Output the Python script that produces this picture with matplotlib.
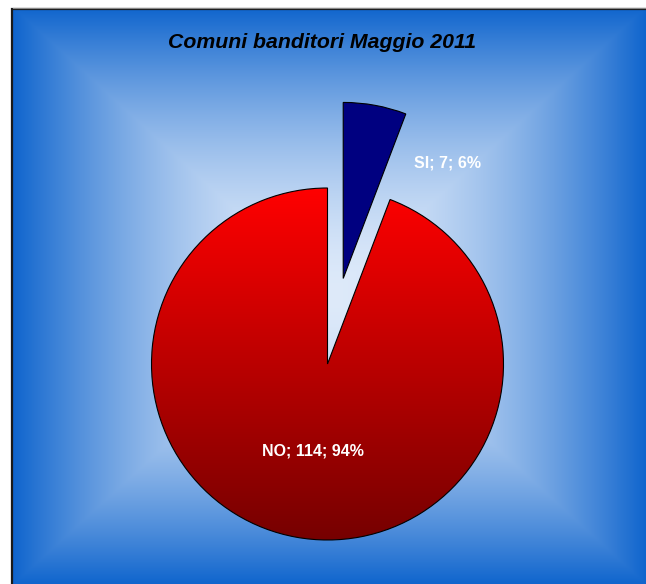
import numpy as np
import matplotlib
matplotlib.use("Agg")
import matplotlib.pyplot as plt

# ---- data ----
categories = ["SI", "NO"]
values = [7, 114]
percent_labels = ["6%", "94%"]
title = "Comuni banditori Maggio 2011"

W, H = 646, 584
fig = plt.figure(figsize=(W / 100, H / 100), dpi=100)
fig.patch.set_facecolor("white")
ax = fig.add_axes([0, 0, 1, 1])
ax.set_xlim(0, W)
ax.set_ylim(0, H)
ax.set_aspect("equal")
ax.axis("off")

# ---- background rectangular gradient ----
x0, x1 = 11.5, W
y0, y1 = 0, H - 8.5
nx, ny = 400, 360
xs = np.linspace(x0, x1, nx)
ys = np.linspace(y0, y1, ny)
X, Y = np.meshgrid(xs, ys)
cx, cy = 329, H - 296
hw, hh = 318, 290
t = np.maximum(np.abs(X - cx) / hw, np.abs(Y - cy) / hh)
t = np.clip(t, 0, 1) ** 1.7
c_center = np.array([222, 234, 250]) / 255
c_edge = np.array([14, 100, 205]) / 255
img = c_center[None, None, :] * (1 - t[..., None]) + c_edge[None, None, :] * t[..., None]
ax.imshow(img, extent=[x0, x1, y0, y1], origin="lower", zorder=0, interpolation="bilinear")
ax.plot([x0, x0, W + 2], [-2, y1, y1], color="#1a1a1a", linewidth=1.6, zorder=1,
        solid_joinstyle="miter")
ax.plot([x0 + 1, W + 2], [y1 + 0.8, y1 + 0.8], color="#888888", linewidth=0.8, zorder=1)

# ---- pie ----
center = (327.5, H - 364)
radius = 176
explode = [87, 0]
wedges, _ = ax.pie(values, explode=explode, startangle=90, counterclock=False,
                   center=center, radius=radius, colors=["#000080", "red"],
                   wedgeprops=dict(edgecolor="black", linewidth=0.8),
                   frame=True)
ax.set_xlim(0, W)
ax.set_ylim(0, H)
ax.axis("off")
for w in wedges:
    w.set_zorder(3)

# red vertical gradient clipped to the NO wedge
no = wedges[1]
gy = np.linspace(0, 1, 256)[:, None]
top = np.array([255, 0, 0]) / 255
bot = np.array([118, 0, 0]) / 255
grad = top[None, None, :] * (1 - gy[..., None]) + bot[None, None, :] * gy[..., None]
grad = np.repeat(grad, 2, axis=1)
im = ax.imshow(grad, extent=[center[0] - radius, center[0] + radius,
                             center[1] - radius, center[1] + radius],
               origin="upper", zorder=3.5, interpolation="bilinear")
im.set_clip_path(no)
no.set_facecolor("none")
no.set_zorder(4)

# ---- labels ----
lab = [f"{c}; {v}; {p}" for c, v, p in zip(categories, values, percent_labels)]
ax.text(447, H - 163.5, lab[0], color="white", fontsize=11.5, fontweight="bold",
        family="Liberation Sans", ha="center", va="center", zorder=5)
ax.text(313, H - 451, lab[1], color="white", fontsize=11.5, fontweight="bold",
        family="Liberation Sans", ha="center", va="center", zorder=5)

ax.text(322.5, H - 43, title, color="black", fontsize=15.3, fontweight="bold",
        fontstyle="italic", family="Liberation Sans", ha="center", va="center", zorder=5)

fig.savefig("out.png", dpi=100)
